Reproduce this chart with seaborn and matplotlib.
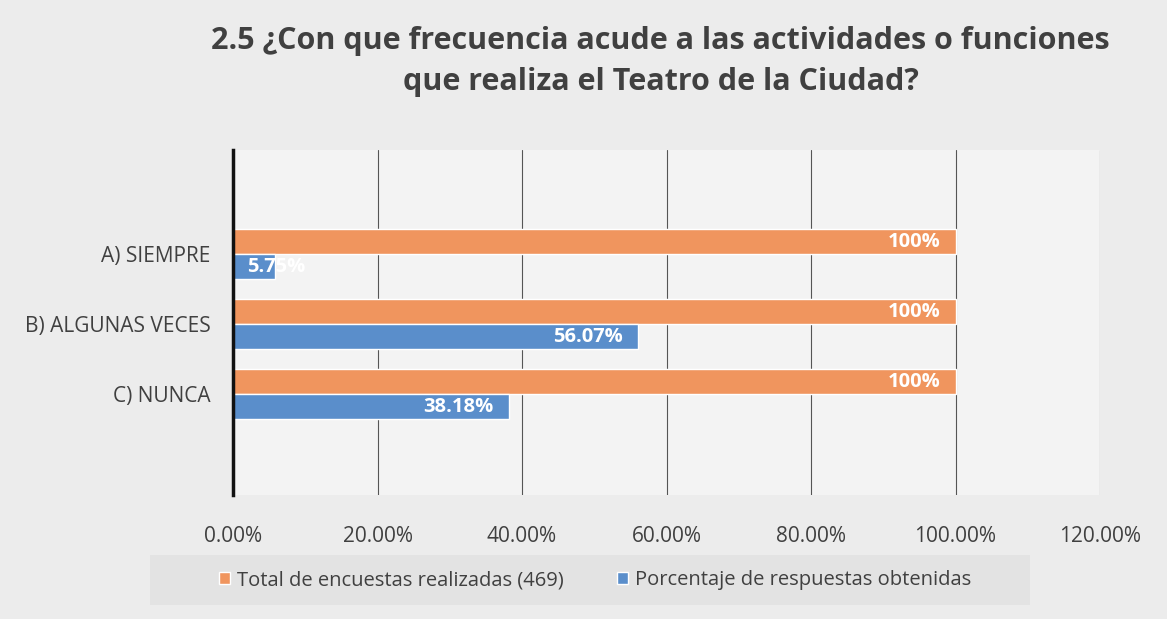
import matplotlib
matplotlib.use("Agg")
import matplotlib.pyplot as plt
import pandas as pd
import seaborn as sns
from matplotlib.patches import Patch, Rectangle
from matplotlib.ticker import FuncFormatter, MultipleLocator

categories = ["A) SIEMPRE", "B) ALGUNAS VECES", "C) NUNCA"]
total_pct = [100, 100, 100]
respuestas_pct = [5.75, 56.07, 38.18]
total_labels = ["100%", "100%", "100%"]
resp_labels = ["5.75%", "56.07%", "38.18%"]
series_names = ["Total de encuestas realizadas (469)",
                "Porcentaje de respuestas obtenidas"]
title = ("2.5 ¿Con que frecuencia acude a las actividades o funciones\n"
         "que realiza el Teatro de la Ciudad?")

ORANGE = "#F0955E"
BLUE = "#5A8ECB"
TEXT = "#404040"

df = pd.DataFrame({
    "categoria": categories * 2,
    "serie": [series_names[0]] * 3 + [series_names[1]] * 3,
    "valor": total_pct + respuestas_pct,
})

sns.set_theme(style="white")
plt.rcParams["font.family"] = ["Open Sans", "DejaVu Sans"]

fig = plt.figure(figsize=(11.67, 6.19), dpi=100, facecolor="#ececec")
ax = fig.add_axes([0.1997, 0.2003, 0.7429, 0.5574])
ax.set_facecolor("#f3f3f3")

sns.barplot(data=df, y="categoria", x="valor", hue="serie", orient="h",
            palette=[ORANGE, BLUE], width=0.72, saturation=1, gap=0,
            legend=False, ax=ax)

# data labels, white, inside the bar end
for container, labels in zip(ax.containers, [total_labels, resp_labels]):
    for bar, lab in zip(container, labels):
        y = bar.get_y() + bar.get_height() / 2
        w = bar.get_width()
        if w < 15:
            ax.annotate(lab, (bar.get_x(), y), xytext=(10, 0), textcoords="offset points",
                        ha="left", va="center", color="white", fontsize=14.5,
                        fontweight="bold")
        else:
            ax.annotate(lab, (w, y), xytext=(-11, 0), textcoords="offset points",
                        ha="right", va="center", color="white", fontsize=14.5,
                        fontweight="bold")

ax.set_xlim(0, 120)
ax.set_ylim(3.44, -1.49)
ax.xaxis.set_major_locator(MultipleLocator(20))
ax.xaxis.set_major_formatter(FuncFormatter(lambda v, _: f"{v:.2f}%"))
ax.grid(axis="x", color="#555555", linewidth=0.8)
ax.set_axisbelow(True)
ax.set_xlabel("")
ax.set_ylabel("")
ax.tick_params(axis="x", length=0, pad=22, labelsize=15, labelcolor=TEXT)
ax.tick_params(axis="y", length=0, pad=16, labelsize=15, labelcolor=TEXT)

for side in ["top", "right", "bottom"]:
    ax.spines[side].set_visible(False)
ax.spines["left"].set_color("#111111")
ax.spines["left"].set_linewidth(2.5)

fig.text(0.566, 0.901, title, ha="center", va="center", fontsize=22,
         fontweight="bold", color=TEXT, linespacing=1.5)

# legend band
fig.patches.append(Rectangle((150 / 1167, 1 - 605 / 619), 880 / 1167, 50 / 619,
                             transform=fig.transFigure, facecolor="#e3e3e3",
                             edgecolor="none", zorder=0))
handles = [Patch(facecolor=ORANGE), Patch(facecolor=BLUE)]
leg = fig.legend(handles, series_names, loc="center", bbox_to_anchor=(0.51, 0.063),
                 ncol=2, frameon=False, fontsize=14.5, handlelength=0.55, handleheight=0.55,
                 handletextpad=0.35, columnspacing=2.6)
for t in leg.get_texts():
    t.set_color(TEXT)

fig.savefig("out.png", dpi=100, facecolor=fig.get_facecolor())
